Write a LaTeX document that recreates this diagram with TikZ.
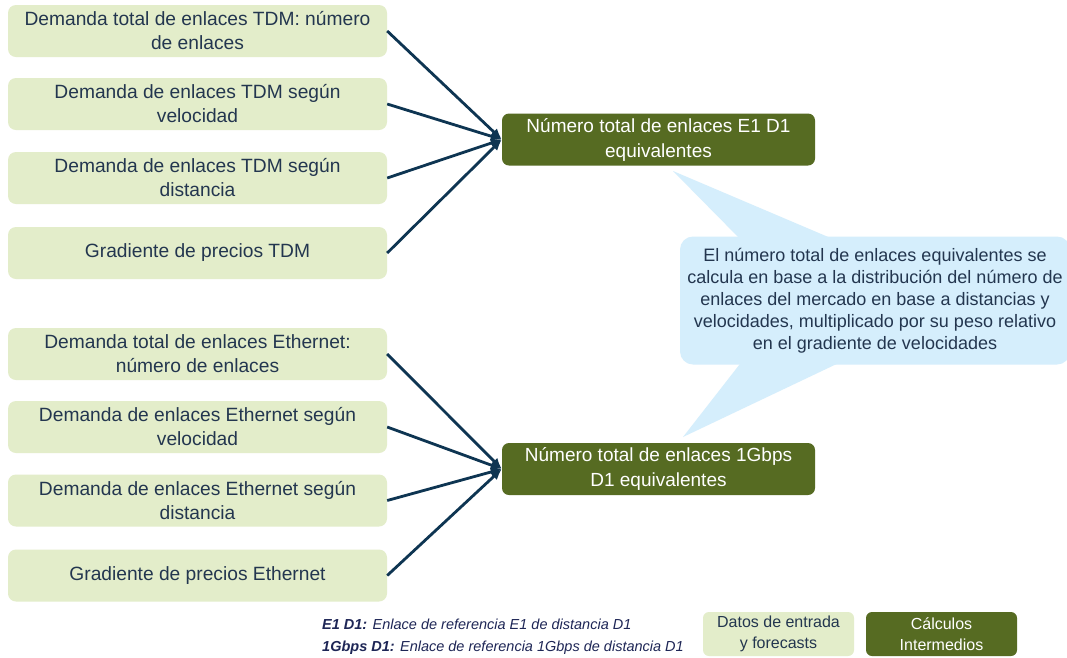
\documentclass[tikz,border=0pt]{standalone}
\usepackage{fontspec}
\setmainfont{Liberation Sans}
\usetikzlibrary{arrows.meta}
\definecolor{lgreen}{HTML}{E3EDCA}
\definecolor{dgreen}{HTML}{566B22}
\definecolor{navy}{HTML}{0E3552}
\definecolor{txt}{HTML}{23364F}
\definecolor{calloutc}{HTML}{D5EEFC}
\definecolor{legtxt}{HTML}{1E2656}
\begin{document}
\begin{tikzpicture}[x=1pt,y=-1pt,
  inbox/.style={fill=lgreen, rounded corners=8pt, minimum width=379pt, minimum height=52pt, text=txt, align=center, inner sep=0pt, font=\fontsize{19.2}{24}\selectfont},
  calcbox/.style={fill=dgreen, rounded corners=7pt, minimum width=313pt, minimum height=52pt, text=white, align=center, inner sep=0pt, font=\fontsize{19}{25}\selectfont},
  feed/.style={draw=navy, line width=2.8pt, -{Latex[length=11pt,width=9.5pt]}},
  notebox/.style={fill=calloutc, rounded corners=13pt, minimum width=390pt, minimum height=128pt, text=txt, align=center, inner sep=0pt, font=\fontsize{18}{22}\selectfont},
  legbox/.style={rounded corners=6pt, minimum width=151pt, minimum height=44pt, align=center, inner sep=0pt, font=\fontsize{16}{21}\selectfont},
  legtext/.style={anchor=west, text=legtxt, inner sep=0pt, font=\fontsize{14.5}{17}\selectfont\itshape}
]
\clip (0,0) rectangle (1067,657);
\fill[white] (0,0) rectangle (1067,657);

% input boxes TDM
\node[inbox] (t1) at (197.5,31) {Demanda total de enlaces TDM: número\\de enlaces};
\node[inbox] (t2) at (197.5,104) {Demanda de enlaces TDM según\\velocidad};
\node[inbox] (t3) at (197.5,178) {Demanda de enlaces TDM según\\distancia};
\node[inbox] (t4) at (197.5,253) {Gradiente de precios TDM};

% input boxes Ethernet
\node[inbox] (e1) at (197.5,354) {Demanda total de enlaces Ethernet:\\número de enlaces};
\node[inbox] (e2) at (197.5,427) {Demanda de enlaces Ethernet según\\velocidad};
\node[inbox] (e3) at (197.5,500.5) {Demanda de enlaces Ethernet según\\distancia};
\node[inbox] (e4) at (197.5,575.5) {Gradiente de precios Ethernet};

% calculation boxes
\node[calcbox] (c1) at (658.5,139.5) {Número total de enlaces E1 D1\\equivalentes};
\node[calcbox] (c2) at (658.5,469) {Número total de enlaces 1Gbps\\D1 equivalentes};

% connectors
\foreach \s in {t1,t2,t3,t4} \draw[feed] (\s.east) -- (c1.west);
\foreach \s in {e1,e2,e3,e4} \draw[feed] (\s.east) -- (c2.west);

% callout
\coordinate (tipA) at (673,171);
\coordinate (tipB) at (683,437);
\fill[calloutc] (tipA) -- (743,242) -- (840,242) -- cycle;
\fill[calloutc] (tipB) -- (743,360) -- (845,360) -- cycle;
\node[notebox] (note) at (875,300.5) {El número total de enlaces equivalentes se\\calcula en base a la distribución del número de\\enlaces del mercado en base a distancias y\\velocidades, multiplicado por su peso relativo\\en el gradiente de velocidades};

% legend
\node[legtext] (def1) at (322,624) {\textbf{E1 D1:} Enlace de referencia E1 de distancia D1};
\node[legtext] (def2) at (322,648) {\textbf{1Gbps D1:} Enlace de referencia 1Gbps de distancia D1};
\node[legbox, fill=lgreen, text=txt] (leg1) at (778.5,634) {Datos de entrada\\y forecasts};
\node[legbox, fill=dgreen, text=white] (leg2) at (941.5,634) {Cálculos\\Intermedios};
\end{tikzpicture}
\end{document}
